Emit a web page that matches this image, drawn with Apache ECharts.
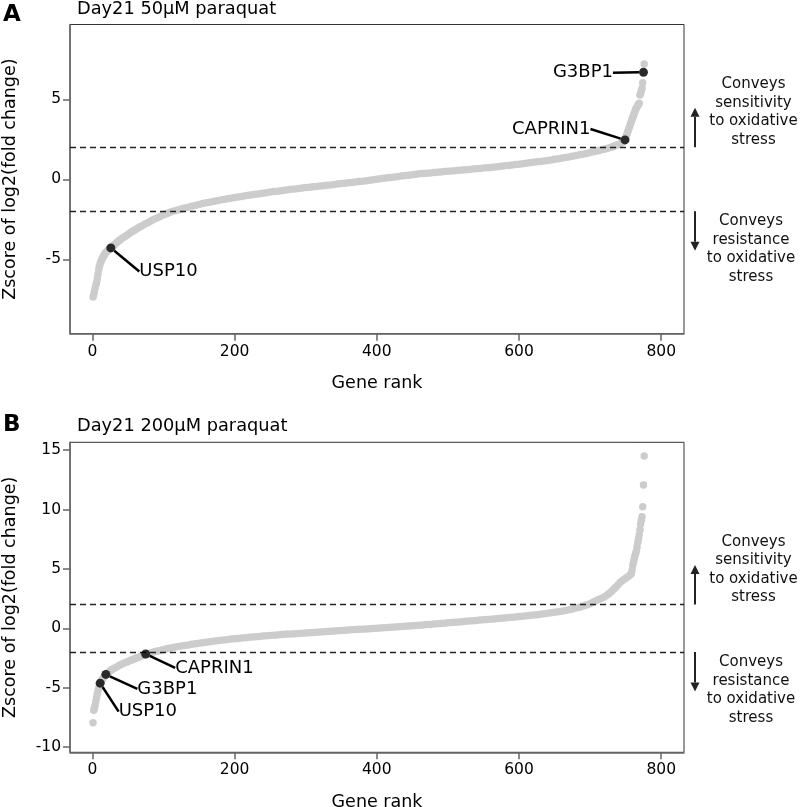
<!DOCTYPE html>
<html><head><meta charset="utf-8">
<script src="https://cdn.jsdelivr.net/npm/echarts@6/dist/echarts.min.js"></script>
<style>html,body{margin:0;padding:0;background:#fff}#c{width:800px;height:807px}</style>
</head><body><div id="c"></div>
<script>
// ---- data (gene rank, zscore of log2 fold change) ----
const curveA = [[1,-7.35],[2,-7.22],[3,-7.02],[4,-6.8],[5,-6.6],[6,-6.45],[7,-6.2],[8,-5.92],[9,-5.65],[10,-5.45],
[11,-5.28],[12,-5.15],[13,-5.04],[14,-4.94],[15,-4.86],[16,-4.78],[17,-4.71],[18,-4.64],[19,-4.58],[20,-4.53],
[22,-4.44],[24,-4.36],[26,-4.29],[28,-4.21],[30,-4.13],[32,-4.05],[34,-3.97],[36,-3.89],[38,-3.82],[40,-3.75],
[43,-3.66],[46,-3.57],[49,-3.48],[52,-3.39],[55,-3.3],[58,-3.22],[61,-3.13],[64,-3.05],[67,-2.97],[70,-2.9],
[74,-2.8],[78,-2.71],[82,-2.61],[86,-2.52],[90,-2.43],[94,-2.35],[98,-2.27],[102,-2.2],[106,-2.12],[110,-2.05],
[115,-1.98],[120,-1.92],[125,-1.86],[130,-1.8],[135,-1.74],[140,-1.68],[145,-1.63],[150,-1.57],[155,-1.52],[160,-1.47],
[165,-1.43],[170,-1.38],[175,-1.34],[180,-1.3],[185,-1.26],[190,-1.22],[195,-1.18],[200,-1.14],[205,-1.1],[210,-1.07],
[215,-1.03],[220,-1.0],[225,-0.96],[230,-0.93],[235,-0.9],[240,-0.87],[245,-0.84],[250,-0.8],[255,-0.77],[260,-0.74],
[265,-0.71],[270,-0.68],[275,-0.65],[280,-0.62],[285,-0.6],[290,-0.57],[295,-0.55],[300,-0.52],[305,-0.5],[310,-0.47],
[315,-0.45],[320,-0.42],[325,-0.4],[330,-0.37],[335,-0.35],[340,-0.32],[345,-0.3],[350,-0.27],[355,-0.25],[360,-0.22],
[365,-0.2],[370,-0.17],[375,-0.14],[380,-0.12],[385,-0.09],[390,-0.06],[395,-0.03],[400,0.0],[405,0.03],[410,0.06],
[415,0.09],[420,0.12],[425,0.15],[430,0.18],[435,0.21],[440,0.24],[445,0.26],[450,0.29],[455,0.31],[460,0.34],
[465,0.36],[470,0.38],[475,0.4],[480,0.42],[485,0.44],[490,0.46],[495,0.48],[500,0.5],[505,0.52],[510,0.54],
[515,0.56],[520,0.58],[525,0.6],[530,0.62],[535,0.64],[540,0.66],[545,0.68],[550,0.7],[555,0.72],[560,0.74],
[565,0.77],[570,0.79],[575,0.81],[580,0.84],[585,0.86],[590,0.89],[595,0.92],[600,0.94],[605,0.97],[610,1.0],
[615,1.03],[620,1.06],[625,1.09],[630,1.12],[635,1.15],[640,1.18],[645,1.21],[650,1.25],[655,1.29],[660,1.32],
[665,1.36],[670,1.4],[675,1.44],[680,1.48],[685,1.53],[690,1.57],[695,1.62],[700,1.67],[705,1.72],[710,1.77],
[714,1.81],[718,1.86],[722,1.91],[726,1.96],[730,2.01],[733,2.06],[736,2.11],[739,2.16],[742,2.22],[744,2.28],
[746,2.34],[748,2.41],[749,2.46],[750,2.58],[751,2.72],[752,2.85],[753,2.98],[754,3.1],[755,3.23],[756,3.36],
[757,3.49],[758,3.62],[759,3.75],[760,3.87],[761,4.0],[762,4.12],[763,4.24],[764,4.36],[765,4.46],[766,4.54],
[767,4.62],[768,4.68],[769,4.75],[770,5.27],[771,5.37],[772,5.55],[773,5.69],[774,6.04],[775,6.69],[776,7.2]];

const curveB = [[1,-7.95],[2,-6.9],[3,-6.7],[4,-6.45],[5,-6.1],[6,-5.8],[7,-5.5],[8,-5.25],[9,-5.02],[10,-4.8],
[11,-4.62],[12,-4.5],[13,-4.4],[14,-4.3],[15,-4.21],[16,-4.12],[17,-4.04],[18,-3.96],[19,-3.88],[20,-3.82],
[22,-3.72],[24,-3.63],[26,-3.54],[28,-3.46],[30,-3.39],[33,-3.29],[36,-3.19],[39,-3.1],[42,-3.01],[45,-2.93],
[48,-2.85],[51,-2.77],[54,-2.69],[57,-2.62],[60,-2.55],[63,-2.48],[66,-2.41],[69,-2.34],[72,-2.27],[75,-2.2],
[78,-2.14],[82,-2.07],[86,-2.0],[90,-1.94],[94,-1.88],[98,-1.82],[102,-1.76],[106,-1.71],[110,-1.66],[115,-1.6],
[120,-1.55],[125,-1.5],[130,-1.45],[135,-1.4],[140,-1.35],[145,-1.3],[150,-1.25],[155,-1.21],[160,-1.17],[165,-1.13],
[170,-1.09],[175,-1.05],[180,-1.01],[185,-0.98],[190,-0.94],[195,-0.91],[200,-0.88],[205,-0.85],[210,-0.82],[215,-0.79],
[220,-0.76],[225,-0.73],[230,-0.71],[235,-0.68],[240,-0.65],[245,-0.63],[250,-0.6],[255,-0.58],[260,-0.56],[265,-0.53],
[270,-0.51],[275,-0.49],[280,-0.47],[285,-0.45],[290,-0.43],[295,-0.41],[300,-0.39],[305,-0.37],[310,-0.35],[315,-0.33],
[320,-0.31],[325,-0.29],[330,-0.27],[335,-0.25],[340,-0.23],[345,-0.21],[350,-0.19],[355,-0.17],[360,-0.15],[365,-0.13],
[370,-0.11],[375,-0.09],[380,-0.07],[385,-0.05],[390,-0.03],[395,-0.01],[400,0.01],[405,0.03],[410,0.05],[415,0.07],
[420,0.09],[425,0.11],[430,0.13],[435,0.15],[440,0.17],[445,0.19],[450,0.21],[455,0.24],[460,0.26],[465,0.28],
[470,0.31],[475,0.33],[480,0.36],[485,0.38],[490,0.41],[495,0.43],[500,0.46],[505,0.48],[510,0.51],[515,0.53],
[520,0.56],[525,0.59],[530,0.61],[535,0.64],[540,0.66],[545,0.69],[550,0.71],[555,0.74],[560,0.77],[565,0.79],
[570,0.82],[575,0.85],[580,0.87],[585,0.9],[590,0.93],[595,0.96],[600,0.99],[605,1.02],[610,1.05],[615,1.08],
[620,1.12],[625,1.15],[630,1.19],[635,1.23],[640,1.27],[645,1.31],[650,1.35],[655,1.39],[660,1.44],[665,1.5],
[670,1.56],[675,1.63],[680,1.7],[685,1.78],[690,1.87],[695,1.97],[700,2.07],[704,2.2],[708,2.32],[712,2.42],
[716,2.52],[720,2.64],[724,2.8],[727,2.95],[730,3.1],[733,3.28],[736,3.46],[739,3.64],[742,3.85],[745,4.0],
[748,4.12],[751,4.25],[754,4.38],[757,4.52],[758,4.63],[759,4.9],[760,5.3],[761,5.6],[762,5.85],[763,6.1],
[764,6.3],[765,6.5],[766,6.85],[767,7.25],[768,7.55],[769,7.85],[770,8.3],[771,8.75],[772,9.1],[773,9.4],
[774,10.24],[775,12.06],[776,14.5]];

const genesA = ['USP10', 'CAPRIN1', 'G3BP1'];
const geneRankA = [26, 749, 775];
const geneZA = [-4.29, 2.46, 6.69];
const genesB = ['USP10', 'G3BP1', 'CAPRIN1'];
const geneRankB = [11, 19, 75];
const geneZB = [-4.62, -3.88, -2.16];

const thresholds = [2, -2];
const xTicks = [0, 200, 400, 600, 800];
const yTicksA = [-5, 0, 5];
const yTicksB = [-10, -5, 0, 5, 10, 15];
const panelLetters = ['A', 'B'];
const panelTitles = ['Day21 50\u03bcM paraquat', 'Day21 200\u03bcM paraquat'];
const xName = 'Gene rank';
const yName = 'Zscore of log2(fold change)';
const sensText = ['Conveys', 'sensitivity', 'to oxidative', 'stress'];
const resText = ['Conveys', 'resistance', 'to oxidative', 'stress'];

// ---- styling / layout ----
const FONT = 'DejaVu Sans';
const TXT = '#000';
const AX = '#666';

function xAxisCfg(gi) {
  return {
    type: 'value', gridIndex: gi, min: -31.4, max: 832,
    splitLine: {show: false},
    axisLine: {show: true, onZero: false, lineStyle: {color: AX, width: 1.5}},
    axisTick: {show: true, inside: false, length: 7, customValues: xTicks, lineStyle: {color: AX, width: 1.5}},
    axisLabel: {customValues: xTicks, margin: 10, fontSize: 15.5, color: TXT, fontFamily: FONT},
    name: xName, nameLocation: 'middle', nameGap: 41,
    nameTextStyle: {fontSize: 17.5, color: TXT, fontFamily: FONT}
  };
}
function yAxisCfg(gi, min, max, ticks) {
  return {
    type: 'value', gridIndex: gi, min: min, max: max,
    splitLine: {show: false},
    axisLine: {show: true, onZero: false, lineStyle: {color: AX, width: 1.5}},
    axisTick: {show: true, inside: false, length: 7, customValues: ticks, lineStyle: {color: AX, width: 1.5}},
    axisLabel: {customValues: ticks, margin: 9, fontSize: 15.5, color: TXT, fontFamily: FONT},
    name: yName, nameLocation: 'middle', nameGap: 51,
    nameTextStyle: {fontSize: 17.5, color: TXT, fontFamily: FONT}
  };
}
function curveSeries(gi, data) {
  return {
    type: 'scatter', xAxisIndex: gi, yAxisIndex: gi, data: data,
    symbolSize: 7.5, itemStyle: {color: '#cccccc', opacity: 1}, silent: true, z: 2,
    markLine: {
      silent: true, symbol: ['none', 'none'], label: {show: false},
      lineStyle: {color: '#222', type: [6, 4], width: 1.4},
      data: thresholds.map(v => ({yAxis: v}))
    }
  };
}
function geneSeries(gi, names, ranks, zs, pos, dist, dys) {
  return {
    type: 'scatter', xAxisIndex: gi, yAxisIndex: gi, z: 5, silent: true,
    symbolSize: 9, itemStyle: {color: '#000'},
    data: names.map((n, i) => ({
      name: n, value: [ranks[i], zs[i]],
      label: {show: true, position: pos[i], distance: dist[i], formatter: n}
    })),
    label: {show: true, fontSize: 18, color: '#000', opacity: 1, textBorderWidth: 0, fontFamily: FONT},
    labelLine: {show: true, lineStyle: {color: '#000', width: 2.5, opacity: 1}},
    labelLayout: p => ({dy: dys[p.dataIndex]})
  };
}

const chart = echarts.init(document.getElementById('c'), null, {renderer: 'canvas'});
const gridBase = {left: 70, width: 614, show: true, borderColor: '#333', borderWidth: 1,
  backgroundColor: 'transparent', containLabel: false, outerBoundsMode: 'none'};
const option = {
  animation: false,
  backgroundColor: '#fff',
  textStyle: {fontFamily: FONT},
  title: [
    {text: panelLetters[0], left: 3, top: 4, padding: 0, textStyle: {fontSize: 23, fontWeight: 'bold', color: TXT, fontFamily: FONT}},
    {text: panelTitles[0], left: 77, top: 0, padding: 0, textStyle: {fontSize: 17.8, fontWeight: 'normal', color: TXT, fontFamily: FONT}},
    {text: panelLetters[1], left: 3, top: 414, padding: 0, textStyle: {fontSize: 23, fontWeight: 'bold', color: TXT, fontFamily: FONT}},
    {text: panelTitles[1], left: 77, top: 417, padding: 0, textStyle: {fontSize: 17.8, fontWeight: 'normal', color: TXT, fontFamily: FONT}}
  ],
  grid: [
    Object.assign({}, gridBase, {top: 24.5, height: 309.2}),
    Object.assign({}, gridBase, {top: 442.3, height: 310})
  ],
  xAxis: [xAxisCfg(0), xAxisCfg(1)],
  yAxis: [yAxisCfg(0, -9.65, 9.675, yTicksA), yAxisCfg(1, -10.44, 15.66, yTicksB)],
  series: [
    curveSeries(0, curveA),
    curveSeries(1, curveB),
    geneSeries(0, genesA, geneRankA, geneZA, ['right', 'left', 'left'], [24, 30, 26], [23.5, -11, 0.5]),
    geneSeries(1, genesB, geneRankB, geneZB, ['right', 'right', 'right'], [14, 27, 25], [28.5, 14.5, 14])
  ]
};
chart.setOption(option);

// ---- side annotations anchored to the threshold lines ----
const ARX = 695;
function arrow(y0, dir) {
  const tip = y0 + dir * 39.5;
  const base = tip - dir * 9;
  return [
    {type: 'line', shape: {x1: ARX, y1: y0, x2: ARX, y2: base}, style: {stroke: '#222', lineWidth: 2}, silent: true},
    {type: 'polygon', shape: {points: [[ARX, tip], [ARX - 4.5, base], [ARX + 4.5, base]]}, style: {fill: '#222'}, silent: true}
  ];
}
function block(lines, x, yc) {
  return {type: 'text', silent: true, style: {
    x: x, y: yc, text: lines.join('\n'), textAlign: 'center', textVerticalAlign: 'middle',
    fontSize: 15, lineHeight: 18.6, fontFamily: FONT, fill: '#111'
  }};
}
const graphics = [];
[0, 1].forEach(gi => {
  const yUp = chart.convertToPixel({gridIndex: gi}, [0, thresholds[0]])[1];
  const yDn = chart.convertToPixel({gridIndex: gi}, [0, thresholds[1]])[1];
  graphics.push(...arrow(yUp, -1), ...arrow(yDn, 1));
  graphics.push(block(sensText, 753.5, yUp - 35));
  graphics.push(block(resText, 751, yDn + 38));
});
chart.setOption({graphic: graphics});
</script>
</body></html>
